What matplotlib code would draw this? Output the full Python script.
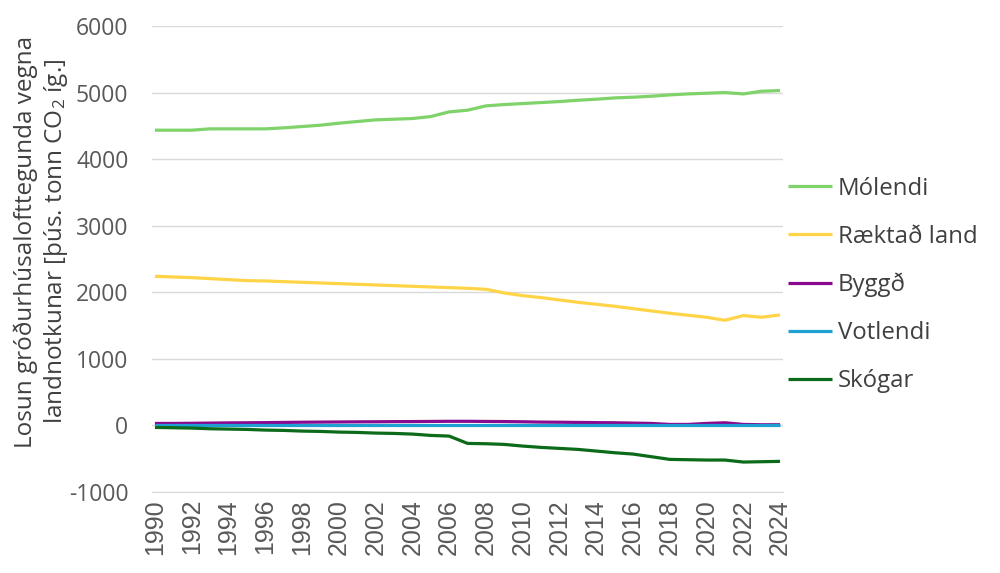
import matplotlib
matplotlib.use("Agg")
import matplotlib.pyplot as plt

years = list(range(1990, 2025))
molendi = [4435, 4435, 4435, 4455, 4455, 4455, 4455, 4470, 4490, 4510,
           4540, 4565, 4590, 4600, 4610, 4640, 4710, 4735, 4800, 4820,
           4835, 4850, 4865, 4885, 4900, 4920, 4930, 4945, 4965, 4980,
           4990, 5000, 4980, 5020, 5030]
raektad = [2240, 2230, 2220, 2205, 2190, 2175, 2170, 2160, 2150, 2140,
           2130, 2120, 2110, 2100, 2090, 2080, 2070, 2060, 2045, 1990,
           1950, 1920, 1885, 1850, 1820, 1790, 1755, 1720, 1685, 1655,
           1625, 1580, 1650, 1625, 1660]
byggd = [30, 30, 32, 35, 38, 40, 42, 45, 48, 50,
         52, 54, 55, 57, 58, 60, 62, 62, 60, 58,
         55, 50, 48, 45, 42, 40, 35, 30, 15, 15,
         30, 40, 15, 10, 10]
votlendi = [10] * 35
skogar = [-30, -35, -40, -50, -55, -60, -70, -75, -85, -90,
          -100, -105, -115, -120, -130, -150, -160, -270, -275, -285,
          -310, -330, -345, -360, -385, -410, -430, -470, -510, -515,
          -520, -520, -550, -545, -540]

names = ["Mólendi", "Ræktað land", "Byggð", "Votlendi", "Skógar"]
colors = ["#7fd36a", "#ffd447", "#8a0a8f", "#1ea0d2", "#0b6b1a"]
series = [molendi, raektad, byggd, votlendi, skogar]

plt.rcParams['font.family'] = ['Open Sans', 'DejaVu Sans']
plt.rcParams['mathtext.fontset'] = 'custom'
plt.rcParams['mathtext.rm'] = 'Open Sans'
plt.rcParams['mathtext.it'] = 'Open Sans'
plt.rcParams['axes.unicode_minus'] = False

fig = plt.figure(figsize=(10, 5.73), dpi=100)
ax = fig.add_axes([0.152, 1 - 492 / 573, 0.631, (492 - 26) / 573])

for name, col, s in zip(names, colors, series):
    ax.plot(years, s, color=col, lw=2.3, label=name, solid_capstyle='butt')

ax.set_xlim(1990 - 0.16, 2024 + 0.16)
ax.set_ylim(-1000, 6000)
ax.set_yticks(range(-1000, 6001, 1000))
ax.set_xticks(range(1990, 2025, 2))
ax.grid(axis='y', color='#d9d9d9', lw=1)
ax.set_axisbelow(True)
for sp in ['top', 'right', 'left']:
    ax.spines[sp].set_visible(False)
ax.spines['bottom'].set_color('#d9d9d9')
ax.tick_params(axis='y', length=0, pad=17, labelsize=16.5, labelcolor='#595959')
ax.tick_params(axis='x', length=0, pad=5, labelsize=18, labelcolor='#595959',
               labelrotation=90)
for lbl in ax.get_xticklabels():
    lbl.set_fontfamily('Liberation Sans')

fig.text(0.0415, 0.578, "Losun gróðurhúsalofttegunda vegna\nlandnotkunar [þús. tonn CO$_2$ íg.]",
         rotation=90, ha='center', va='center', multialignment='center',
         fontsize=17.5, color='#404040', linespacing=1.2)

leg = ax.legend(loc='center left', bbox_to_anchor=(788 / 1000, 1 - 285 / 573),
                bbox_transform=fig.transFigure, frameon=False, fontsize=17.3,
                handlelength=1.85, handletextpad=0.22, labelspacing=1.0,
                borderaxespad=0, borderpad=0)
for t in leg.get_texts():
    t.set_color('#404040')

fig.savefig("out.png", dpi=100)
